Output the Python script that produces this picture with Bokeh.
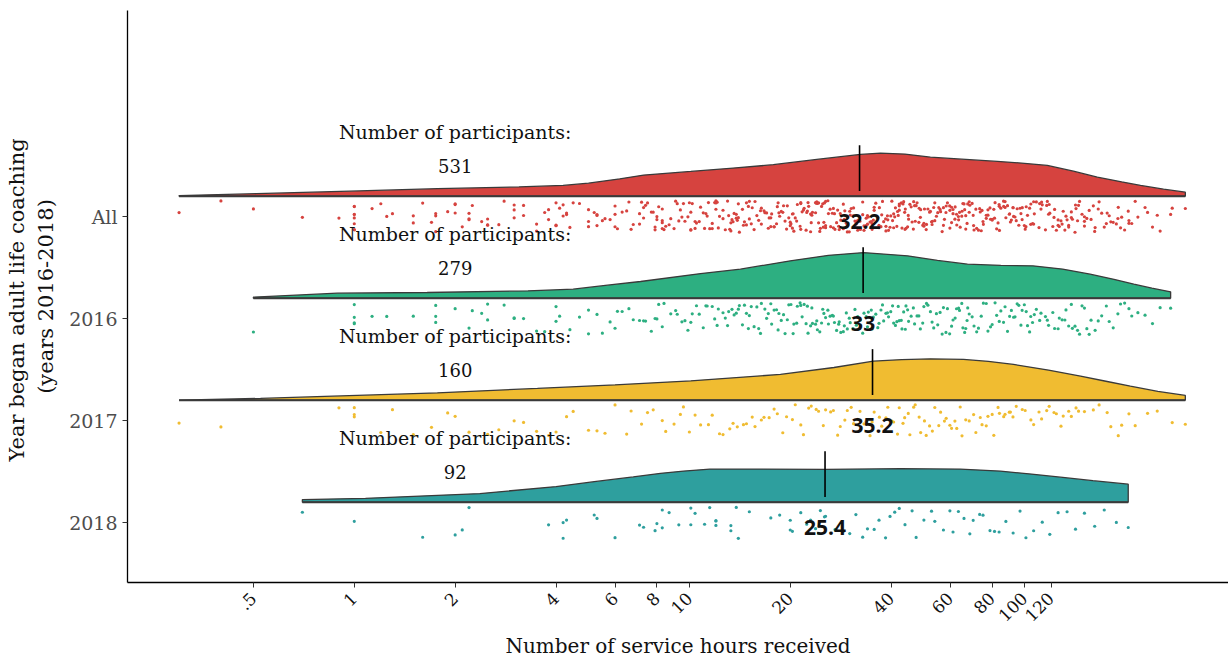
import math
from bokeh.plotting import figure
from bokeh.models import Range1d, FixedTicker
from bokeh.core.properties import value
from bokeh.embed import file_html
from bokeh.resources import INLINE

# ---------------- data ----------------
categories = ["All", "2016", "2017", "2018"]
cat_pos = [4, 3, 2, 1]
colors = ["#D6433F", "#2DAF81", "#F0BC31", "#2E9F9E"]
medians = [32.2, 33, 35.2, 25.4]
participants = [531, 279, 160, 92]

hours_2016 = [
    0.5, 1, 1, 1, 1, 1.13, 1.25, 1.5, 1.75, 1.75, 1.75,
    2, 2.2, 2.25, 2.4, 2.5, 2.5, 2.8, 3, 3, 3.2,
    3.5, 3.7, 4, 4, 4.1, 4.4,
    4.7, 5, 5, 5.3, 5.5,
    5.8, 6, 6.1, 6.3, 6.6, 6.8, 7.1,
    7.3, 7.4, 7.7, 7.9, 8, 8.1, 8.3, 8.4, 8.8, 9.1, 9.2, 9.5, 9.7, 9.9, 10.1, 10.2, 10.5, 10.7,
    11, 11.2, 11.3, 11.7, 11.9, 12.1, 12.2, 12.6, 12.8, 13, 13.1, 13.4, 13.6, 13.8, 14, 14.1,
    14.4, 14.6, 14.8, 15, 15.1, 15.3, 15.6, 15.9, 16.1, 16.3, 16.4, 16.8, 17, 17.2, 17.5, 17.6,
    17.9, 18.2, 18.4, 18.5, 18.8, 19.1, 19.3, 19.6, 19.8,
    20.1, 20.4, 20.5, 20.9, 21, 21.4, 21.5, 21.7, 22, 22.3, 22.5, 22.6, 23, 23.2, 23.3, 23.8, 24,
    24.1, 24.5, 24.8, 25, 25.2, 25.5, 25.9, 26, 26.3, 26.7, 26.9, 27.1, 27.5, 27.9, 28, 28.3, 28.8,
    29, 29.4, 29.6, 30, 30.2, 30.8, 31.2, 31.5, 31.8, 32.4, 32.9,
    33.2, 33.7, 34, 34.2, 34.9, 35.1, 35.4, 36, 36.5, 36.8, 37.3, 37.7, 38, 38.6, 39, 39.3, 39.9,
    40.4, 40.7, 41.2, 41.6, 42, 42.3, 42.9, 43.1, 43.6, 44.1, 44.3, 44.8,
    45.1, 45.9, 46.6, 47, 47.8, 48.4, 48.9, 49.7, 50.1, 51, 51.5, 52.4, 53, 53.6, 54.6, 55.1, 56,
    56.8, 57.3, 58.3, 58.9, 59.8, 60.6, 61.2, 62.1, 62.7, 63.6, 64, 65, 65.5, 66.3, 66.8, 67.4, 67.7,
    68.4, 69.8, 70.7, 72, 72.9, 74.3, 75.4, 76.9, 77.8, 79.2, 80.1, 81.7, 82.6, 84.1, 85, 86.6,
    87.5, 89, 90.3, 91.4, 92.8, 93.7, 95.1, 96.2, 97.6, 98.4, 99.9, 101.2, 102.1, 103.6, 104.4, 105.7,
    107, 108.5, 111, 112, 115.5, 117, 118, 121.5, 123, 126, 127, 129.5, 132, 133, 135.5, 138, 139,
    141.5, 144, 146, 148.5, 151, 153.5, 156,
    158, 162.5, 166, 170, 175.5, 179, 184, 190, 193.5, 199, 205, 209,
    218, 229, 241, 254, 273,
]

hours_2017 = [
    0.3, 0.4,
    0.9, 1, 1, 1,
    1.2, 1.3, 1.5, 1.7,
    1.9, 2, 2.2, 2.5, 2.7, 3, 3.2, 3.5,
    3.8, 4, 4.3, 4.5, 5, 5.3, 5.6, 6, 6.5, 6.7, 7.2, 7.5, 7.8, 8.3, 8.5, 9, 9.4, 9.6, 10,
    10.4, 10.8, 11.4, 11.7, 12.3, 12.6, 13.2, 13.5, 13.9, 14.5, 14.8, 15.4, 15.7, 16.4, 16.7, 17.3,
    17.9, 18.3,
    19, 19.5, 20.3, 20.7, 21.5, 21.9, 22.7, 23.1, 23.9, 24.3, 25.1, 25.5, 26.4, 26.9, 27.7, 28.2,
    29.1, 29.6, 30.4, 30.9, 31.8, 32.3, 33.2, 33.7, 34.6, 35.1,
    35.6, 36.9, 37.5, 38.6, 39.1, 40.2, 40.7, 41.8, 42.3, 43.4, 43.9, 45, 45.5, 46.7, 47.2, 48.5,
    49, 50.3, 50.9, 52.1,
    53.1, 54, 55.5, 56.2, 57.7, 58.4, 59.9, 60.6, 62, 62.8, 64.3, 65.1,
    66.8, 68.4, 70.5, 71.6, 73.8, 74.7, 76.9, 77.8, 80.1, 81, 83.4, 84.2, 86.7, 87.5, 90.1, 90.8, 92.4,
    94.5, 98.5, 100.5, 104.5, 106.5, 110.5, 112.5, 116.5, 118.5, 122.5, 124.5, 128.5, 130.5, 135.5,
    138, 142.5, 145,
    151, 160.5, 167, 176.5, 181, 190.5, 195, 205,
    214, 233, 249, 276, 302,
]

hours_2018 = [
    0.7, 1, 1.6, 2, 2.1, 2.2, 3.8, 4.2, 4.2, 4.3, 5.2, 5.3, 6, 7.1, 7.3, 7.9, 8, 8.3, 8.3, 8.7,
    9.3, 10.1, 10.1, 10.4, 11.1, 11.5, 12, 12, 12, 13.3, 13.3, 13.8, 14, 15.1, 17.5, 18.6, 20, 20,
    20.3, 21.5, 22.4, 23, 23.8, 24.3, 24.6, 25.3,
    25.5, 27.2, 28.8, 30.1, 31.4, 32.9, 34, 35.6, 36.8, 38.5, 39.7, 41, 42.3,
    44, 46.2, 47.5, 50.1, 52.8, 54, 57.3, 59.9, 61.2, 63.5,
    66, 68.7, 70.3, 73.5, 75.2, 78.9, 81.4, 84,
    88, 92.5, 97, 101, 106.5, 113, 119, 126,
    134, 142, 151, 162, 173, 188, 204,
]

hours_all = hours_2016 + hours_2017 + hours_2018

# density curves: hours and density height
dens_hours_all = [0.3, 0.51, 0.97, 1.77, 3.1, 4.2, 5.0, 6.2, 7.3, 10.1, 13.5, 17.8, 24, 32.4, 37.2,
                  44, 52.4, 65, 83, 100, 117, 140, 165, 195, 222, 260, 302]
dens_all = [0.005, 0.024, 0.049, 0.073, 0.090, 0.105, 0.127, 0.170, 0.206, 0.242, 0.275, 0.308, 0.360,
            0.409, 0.422, 0.412, 0.382, 0.362, 0.340, 0.322, 0.301, 0.245, 0.186, 0.140, 0.105, 0.068, 0.039]

dens_hours_2016 = [0.5, 0.89, 1.65, 3.3, 4.5, 5.7, 7.15, 10.8, 14.2, 20, 26, 33.1, 44.8, 55, 67.6, 85,
                   106, 130, 157, 185, 212, 240, 273]
dens_2016 = [0.010, 0.049, 0.055, 0.072, 0.088, 0.127, 0.163, 0.241, 0.284, 0.366, 0.420, 0.447, 0.415,
             0.370, 0.333, 0.322, 0.317, 0.285, 0.235, 0.185, 0.137, 0.098, 0.062]

dens_hours_2017 = [0.3, 0.525, 1.02, 1.77, 3.52, 6.0, 10.1, 18.7, 27, 35.4, 43, 52.4, 65.8, 78, 92.7,
                   118, 147, 175, 207, 250, 302]
dens_2017 = [0.0, 0.017, 0.046, 0.072, 0.115, 0.150, 0.189, 0.252, 0.320, 0.382, 0.398, 0.405, 0.399,
             0.380, 0.350, 0.295, 0.235, 0.185, 0.137, 0.085, 0.046]

dens_hours_2018 = [0.7, 1.08, 2.37, 4.0, 5.2, 6.8, 8.2, 9.6, 11.5, 15, 25.6, 42.7, 64.4, 84.8, 105,
                   128, 160, 204]
dens_2018 = [0.025, 0.037, 0.084, 0.152, 0.200, 0.247, 0.282, 0.304, 0.324, 0.324, 0.322, 0.328, 0.324,
             0.304, 0.275, 0.245, 0.210, 0.176]

x_ticks = [0.5, 1, 2, 4, 6, 8, 10, 20, 40, 60, 80, 100, 120]
x_tick_labels = [".5", "1", "2", "4", "6", "8", "10", "20", "40", "60", "80", "100", "120"]

series_hours = [hours_all, hours_2016, hours_2017, hours_2018]
series_dx = [dens_hours_all, dens_hours_2016, dens_hours_2017, dens_hours_2018]
series_dy = [dens_all, dens_2016, dens_2017, dens_2018]

# ---------------- layout constants ----------------
SERIF = "DejaVu Serif"
BASE_OFF = 0.2      # density baseline above category
JIT = 0.155         # half-height of jitter band
Y0, Y1 = 0.412, 6.02


def jitter(n, seed):
    out = []
    for i in range(n):
        h = math.sin((i + 1) * 12.9898 + seed * 78.233) * 43758.5453
        out.append(((h - math.floor(h)) - 0.5) * 2 * JIT)
    return out


p = figure(width=1228, height=663, x_axis_type="log",
           x_range=Range1d(0.2105, 406.3), y_range=Range1d(Y0, Y1),
           output_backend="svg", toolbar_location=None,
           min_border_left=127, min_border_right=0, min_border_top=10, min_border_bottom=81)

p.xgrid.visible = False
p.ygrid.visible = False
p.outline_line_color = None
p.background_fill_color = "white"
p.border_fill_color = "white"

for k in range(4):
    c = cat_pos[k]
    base = c + BASE_OFF
    xs = [series_dx[k][0]] + series_dx[k] + [series_dx[k][-1]]
    ys = [base] + [base + d for d in series_dy[k]] + [base]
    p.patch(xs, ys, fill_color=colors[k], line_color="#3a3a3a", line_width=1.3)
    p.line([series_dx[k][0], series_dx[k][-1]], [base, base], line_color="#3a3a3a", line_width=2)

# median segments
p.segment(x0=medians, y0=[c + 0.25 for c in cat_pos], x1=medians, y1=[c + 0.7 for c in cat_pos],
          line_color="black", line_width=1.6)

# jittered points
for k in range(4):
    hs = series_hours[k]
    ys = [cat_pos[k] + j for j in jitter(len(hs), k + 1)]
    p.scatter(hs, ys, size=3.2, fill_color=colors[k], line_color=None)

# participant annotations
p.text(x=[2] * 4, y=[c + 0.83 for c in cat_pos], text=["Number of participants:"] * 4,
       text_font=value(SERIF), text_font_size="19px", text_align="center",
       text_baseline="middle", text_color="#111111")
p.text(x=[2] * 4, y=[c + 0.5 for c in cat_pos], text=[str(n) for n in participants],
       text_font=value(SERIF), text_font_size="18px", text_align="center",
       text_baseline="middle", text_color="#111111")

# median labels
p.text(x=medians, y=[c - 0.05 for c in cat_pos], text=[f"{m:g}" for m in medians],
       text_font=value("Open Sans"), text_font_size="21px", text_font_style="bold",
       text_align="center", text_baseline="middle", text_color="#111111")

# axes
p.xaxis.ticker = FixedTicker(ticks=x_ticks, minor_ticks=[])
p.xaxis.major_label_overrides = {t: l for t, l in zip(x_ticks, x_tick_labels)}
p.xaxis.major_label_orientation = math.pi / 4
p.xaxis.axis_label = "Number of service hours received"
p.yaxis.ticker = FixedTicker(ticks=cat_pos, minor_ticks=[])
p.yaxis.major_label_overrides = {c: n for c, n in zip(cat_pos, categories)}
p.yaxis.axis_label = "Year began  adult life coaching\n(years 2016-2018)"

for ax in (p.xaxis[0], p.yaxis[0]):
    ax.axis_line_color = "black"
    ax.axis_line_width = 1.3
    ax.major_tick_line_color = "#333333"
    ax.major_tick_out = 5
    ax.major_tick_in = 0
    ax.minor_tick_line_color = None
    ax.axis_label_text_font = SERIF
    ax.axis_label_text_font_style = "normal"
    ax.axis_label_text_font_size = "21px"
    ax.axis_label_text_color = "#111111"
    ax.major_label_text_font = SERIF

p.xaxis.axis_label_text_font_size = "20px"
p.xaxis.major_label_text_font_size = "17px"
p.xaxis.major_label_text_color = "#111111"
p.xaxis.major_label_standoff = 8
p.xaxis.axis_label_standoff = 4
p.yaxis.major_label_text_font_size = "19px"
p.yaxis.major_label_text_color = "#4D4D4D"
p.yaxis.axis_label_standoff = 8

open("out.html", "w").write(file_html(p, INLINE))
